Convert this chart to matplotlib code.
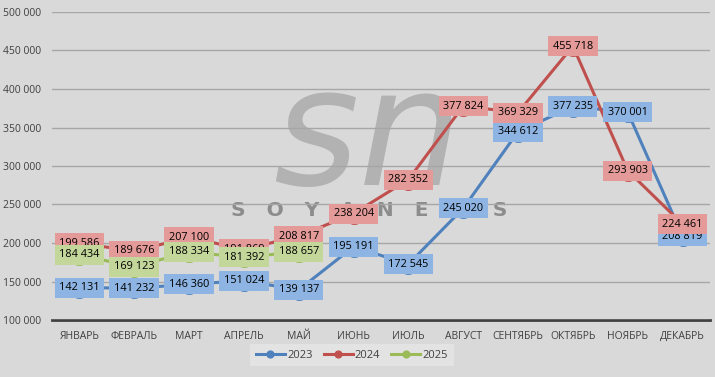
import matplotlib.pyplot as plt
import numpy as np

months = ["ЯНВАРЬ", "ФЕВРАЛЬ", "МАРТ", "АПРЕЛЬ", "МАЙ", "ИЮНЬ", "ИЮЛЬ",
          "АВГУСТ", "СЕНТЯБРЬ", "ОКТЯБРЬ", "НОЯБРЬ", "ДЕКАБРЬ"]
values_2023 = [142131, 141232, 146360, 151024, 139137, 195191, 172545,
               245020, 344612, 377235, 370001, 208819]
values_2024 = [199586, 189676, 207100, 191869, 208817, 238204, 282352,
               377824, 369329, 455718, 293903, 224461]
values_2025 = [184434, 169123, 188334, 181392, 188657]
y_ticks = [100000, 150000, 200000, 250000, 300000, 350000, 400000, 450000, 500000]

series = [
    ("2023", values_2023, "#4f81bd", "#8db4e2"),
    ("2024", values_2024, "#c0504d", "#e39a98"),
    ("2025", values_2025, "#9bbb59", "#c4d79b"),
]

plt.rcParams["font.family"] = ["Open Sans", "DejaVu Sans"]

bg = "#d9d9d9"
fig = plt.figure(figsize=(7.15, 3.77), dpi=100, facecolor=bg)
ax = fig.add_axes([52 / 715, 1 - 320 / 377, (710 - 52) / 715, (320 - 12) / 377])
ax.set_facecolor(bg)

x = np.arange(len(months))
ax.set_xlim(-0.5, len(months) - 0.5)
ax.set_ylim(100000, 500000)
ax.set_yticks(y_ticks)
ax.set_yticklabels([f"{v:,}".replace(",", " ") for v in y_ticks])
ax.set_xticks(x)
ax.set_xticklabels(months)
ax.tick_params(axis="both", length=0, labelsize=7.5, colors="#404040")
ax.tick_params(axis="x", pad=8)
ax.tick_params(axis="y", pad=8)
ax.grid(axis="y", color="#a6a6a6", linewidth=1, zorder=0)
for side in ["top", "right", "left"]:
    ax.spines[side].set_visible(False)
ax.spines["bottom"].set_color("#404040")
ax.spines["bottom"].set_linewidth(2)
ax.spines["bottom"].set_zorder(1)

# watermark, kept under the series
ax.text(0.515, 0.63, "sn", fontsize=118, style="italic", color="#b2b2b2",
        ha="center", va="center", family="DejaVu Sans", zorder=1,
        transform=fig.transFigure)
ax.text(0.517, 0.442, "S   O   Y   A   N   E   W   S", fontsize=14.5,
        fontweight="bold", color="#8c8c8c", ha="center", va="center",
        family="DejaVu Sans", zorder=1, transform=fig.transFigure)

for i, (name, vals, color, box) in enumerate(series):
    ax.plot(x[:len(vals)], vals, color=color, linewidth=2.2, marker="o",
            markersize=14, label=name, zorder=2)

for i, (name, vals, color, box) in enumerate(series):
    for xi, v in zip(x, vals):
        ax.annotate(f"{v:,}".replace(",", " "), (xi, v), xytext=(0, 0),
                    textcoords="offset points", ha="center", va="center",
                    fontsize=7.8, color="black", zorder=4 + i,
                    bbox=dict(boxstyle="square,pad=0.42", facecolor=box,
                              edgecolor="none"))

leg = fig.legend(loc="center", bbox_to_anchor=(352 / 715, 1 - 355 / 377), ncol=3,
                 frameon=True, fontsize=8, handlelength=2.6, columnspacing=1.0,
                 handletextpad=0.2, markerscale=0.35)
leg.get_frame().set_facecolor("#e6e6e6")
leg.get_frame().set_edgecolor("none")
leg.get_frame().set_boxstyle("square", pad=0.1)
for text in leg.get_texts():
    text.set_color("#404040")

fig.savefig("out.png", dpi=100, facecolor=bg)
